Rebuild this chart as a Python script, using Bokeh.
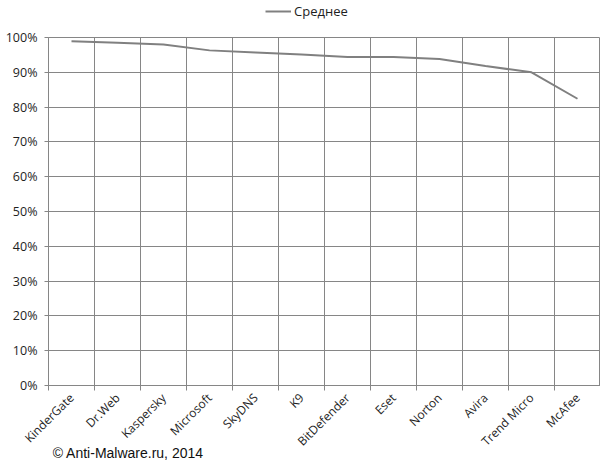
import math
from bokeh.plotting import figure
from bokeh.layouts import column
from bokeh.models import (Range1d, FixedTicker, NumeralTickFormatter, Legend, LegendItem,
                          ColumnDataSource)
from bokeh.embed import file_html
from bokeh.resources import INLINE

categories = ["KinderGate", "Dr.Web", "Kaspersky", "Microsoft", "SkyDNS", "K9",
              "BitDefender", "Eset", "Norton", "Avira", "Trend Micro", "McAfee"]
average = [0.989, 0.985, 0.980, 0.963, 0.957, 0.951, 0.944, 0.944, 0.938, 0.918, 0.900, 0.824]
y_ticks = [0.0, 0.1, 0.2, 0.3, 0.4, 0.5, 0.6, 0.7, 0.8, 0.9, 1.0]
series_name = "Среднее"
credit = "© Anti-Malware.ru, 2014"

GRID = "#868686"
LINE = "#808080"
TEXT = "#1e1e1e"

src = ColumnDataSource(dict(x=list(range(len(categories))), y=average, name=categories))
x_lo, x_hi = -0.5, len(categories) - 0.5

# ---- legend strip on top (series drawn off-view; only its legend entry shows) ----
top = figure(width=600, height=26, output_backend="svg", toolbar_location=None,
             x_axis_location=None, y_axis_location=None,
             x_range=Range1d(x_lo, x_hi), y_range=Range1d(2, 3),
             min_border_left=48, min_border_right=0, min_border_top=0, min_border_bottom=0)
top.outline_line_color = None
top.xgrid.visible = False
top.ygrid.visible = False
sample = top.line("x", "y", source=src, line_color=LINE, line_width=2)
legend = Legend(items=[LegendItem(label=series_name, renderers=[sample])],
                location=(217, 6), orientation="horizontal",
                glyph_width=26, glyph_height=14, label_standoff=3, padding=2, margin=0,
                border_line_color=None, background_fill_alpha=0,
                label_text_font="Open Sans", label_text_font_size="13px",
                label_text_color=TEXT)
top.add_layout(legend, "center")

# ---- main chart ----
p = figure(width=600, height=438, output_backend="svg", toolbar_location=None,
           x_range=Range1d(x_lo, x_hi), y_range=Range1d(0, 1),
           min_border_left=48, min_border_right=0, min_border_top=11, min_border_bottom=79)
p.outline_line_color = GRID
p.background_fill_color = "white"
p.border_fill_color = "white"

p.line("x", "y", source=src, line_color=LINE, line_width=2)

boundaries = [i - 0.5 for i in range(len(categories) + 1)]
p.xgrid.ticker = FixedTicker(ticks=boundaries)
p.ygrid.ticker = FixedTicker(ticks=y_ticks)
for g in (p.xgrid, p.ygrid):
    g.grid_line_color = GRID
    g.grid_line_width = 1

ya = p.yaxis[0]
ya.ticker = FixedTicker(ticks=y_ticks)
ya.formatter = NumeralTickFormatter(format="0%")
ya.axis_line_color = GRID
ya.major_tick_line_color = GRID
ya.major_tick_out = 4
ya.major_tick_in = 0
ya.minor_tick_line_color = None
ya.major_label_standoff = 7
ya.major_label_text_font = "Open Sans"
ya.major_label_text_font_size = "12.5px"
ya.major_label_text_color = TEXT

xa = p.xaxis[0]
xa.ticker = FixedTicker(ticks=list(range(len(categories))), minor_ticks=boundaries)
xa.major_label_overrides = {i: c for i, c in enumerate(categories)}
xa.major_label_orientation = math.pi / 4
xa.axis_line_color = GRID
xa.major_tick_line_color = None
xa.major_tick_out = 0
xa.major_tick_in = 0
xa.minor_tick_line_color = GRID
xa.minor_tick_out = 5
xa.minor_tick_in = 0
xa.major_label_standoff = 5
xa.major_label_text_font = "Open Sans"
xa.major_label_text_font_size = "12px"
xa.major_label_text_color = TEXT
# the axis label is centred on the axis start; non-breaking spaces move it right
xa.axis_label = "\u00a0" * 41 + credit
xa.axis_label_align = "start"
xa.axis_label_standoff = -13
xa.axis_label_text_font = "Liberation Sans"
xa.axis_label_text_font_size = "14px"
xa.axis_label_text_font_style = "normal"
xa.axis_label_text_color = "#111111"

layout = column(top, p, spacing=0)
open("out.html", "w").write(file_html(layout, INLINE))
